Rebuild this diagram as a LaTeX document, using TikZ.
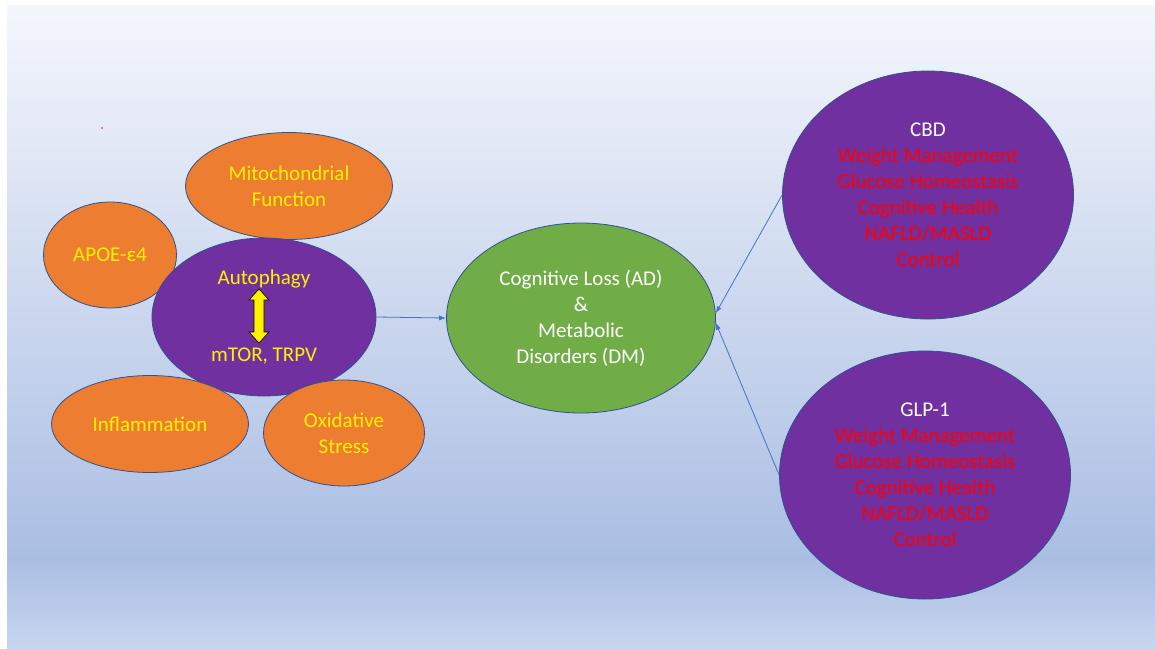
\documentclass[tikz,border=0pt]{standalone}
\usepackage{fontspec}
\setmainfont{Carlito}
\usetikzlibrary{shapes.geometric,arrows.meta}

\definecolor{bgtop}{HTML}{F4F6FC}
\definecolor{bgdark}{HTML}{AABEE3}
\definecolor{bgbot}{HTML}{C7D5EF}
\definecolor{orangefill}{HTML}{ED7D31}
\definecolor{purplefill}{HTML}{7030A0}
\definecolor{greenfill}{HTML}{70AD47}
\definecolor{rim}{HTML}{2F528F}
\definecolor{linkblue}{HTML}{4472C4}

\pgfdeclareverticalshading{bgshade}{100bp}{color(0bp)=(bgbot); color(25bp)=(bgbot); color(32bp)=(bgdark); color(75bp)=(bgtop); color(100bp)=(bgtop)}

\tikzset{
  blob/.style={ellipse, draw=rim, line width=0.8pt, inner sep=0pt, align=center},
  cause/.style={blob, fill=orangefill, text=yellow},
  hub/.style={blob, fill=purplefill},
  drug/.style={blob, fill=purplefill, text=red, minimum width=291pt, minimum height=248pt},
  linkarrow/.style={draw=linkblue, line width=0.8pt, -{Latex[length=7pt,width=5pt]}}
}

\begin{document}
\begin{tikzpicture}[x=1pt, y=-1pt, font=\fontsize{21}{26}\selectfont]
			\useasboundingbox (0,0) rectangle (1155,648);
			\fill[white] (0,0) rectangle (1155,648);
			\shade[shading=bgshade] (7,5) rectangle (1155,648);
			\fill[red] (102,128) circle (0.8);

			% causes around the hub
			\node[cause, minimum width=133pt, minimum height=106pt] (apoe) at (110,255) {APOE-ε4};
			\node[cause, minimum width=207pt, minimum height=107pt] (mito) at (289,186) {Mitochondrial\\Function};
			\node[hub, minimum width=224pt, minimum height=158pt] (auto) at (264,317) {};
			\node[cause, minimum width=197pt, minimum height=97pt] (inflam) at (150,424) {Inflammation};
			\node[cause, minimum width=161pt, minimum height=106pt] (oxid) at (344,433) {Oxidative\\Stress};

			\node[text=yellow] (autoph) at (264,279) {Autophagy};
			\node[text=yellow] (mtor) at (264,356) {mTOR, TRPV};
			\filldraw[fill=yellow, draw=black, line width=0.6pt] (259,289) -- (269,300) -- (264,300) -- (264,332) -- (269,332) -- (259,343) -- (249,332) -- (254,332) -- (254,300) -- (249,300) -- cycle;

			% outcome and treatments
			\node[blob, fill=greenfill, text=white, minimum width=269pt, minimum height=190pt] (cogn) at (581,318) {Cognitive Loss (AD)\\\&\\Metabolic\\Disorders (DM)};
			\node[drug] (cbd) at (928,195) {\textcolor{white}{CBD}\\Weight Management\\Glucose Homeostasis\\Cognitive Health\\NAFLD/MASLD\\Control};
			\node[drug] (glp) at (925,475) {\textcolor{white}{GLP-1}\\Weight Management\\Glucose Homeostasis\\Cognitive Health\\NAFLD/MASLD\\Control};

			\draw[linkarrow] (auto.east) -- (cogn.west);
			\draw[linkarrow] (cbd.west) -- (cogn.2);
			\draw[linkarrow] (glp.west) -- (cogn.-2);
		\end{tikzpicture}
\end{document}
